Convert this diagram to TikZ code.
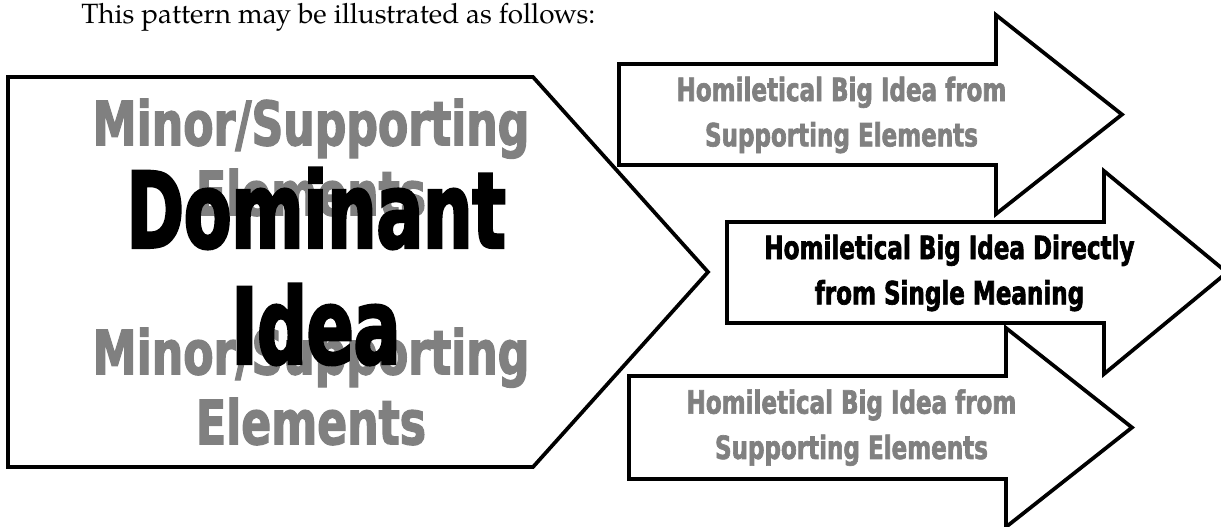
\documentclass[tikz,border=0pt]{standalone}
\usepackage{fontspec}
\setmainfont{TeX Gyre Pagella}
\newfontfamily\heavyfont[FakeStretch=0.8,FakeBold=2]{DejaVu Sans Condensed}
\newfontfamily\domfont[FakeStretch=0.73,FakeBold=2.5]{DejaVu Sans Condensed}
\definecolor{minorgray}{RGB}{128,128,128}
\tikzset{
	outline/.style={draw=black,fill=white,line width=2.8pt,line join=miter},
	minortext/.style={font=\heavyfont\bfseries\fontsize{46}{52.5}\selectfont,text=minorgray,align=center,inner sep=0pt},
	domtext/.style={font=\domfont\bfseries\fontsize{79}{87}\selectfont,text=black,align=center,inner sep=0pt},
	arrowtext/.style={font=\heavyfont\bfseries\fontsize{24}{34}\selectfont,align=center,inner sep=0pt},
}
\begin{document}
\begin{tikzpicture}[x=0.75pt,y=-0.75pt]
	\useasboundingbox (0,0) rectangle (1221,527);
	\clip (0,0) rectangle (1221,527);
	\node[anchor=base west,inner sep=0pt,font=\fontsize{20.9}{25}\selectfont] (intro) at (81,23.3) {This pattern may be illustrated as follows:};
	% the big pentagon
	\draw[outline] (8,77) -- (533,77) -- (708,272) -- (533,467) -- (8,467) -- cycle;
	\node[minortext] (minorA) at (311,157.5) {Minor/Supporting\\Elements};
	\node[minortext] (minorB) at (311,386.5) {Minor/Supporting\\Elements};
	\node[domtext] (dominant) at (316,266.5) {Dominant\\Idea};
	% the three arrows
	\draw[outline] (619,64) -- ++(377,0) -- ++(0,-49) -- ++(126,99.5) -- ++(-126,99.5) -- ++(0,-49) -- ++(-377,0) -- cycle;
	\node[arrowtext,text=minorgray] (homA) at (841.5,115) {Homiletical Big Idea from\\Supporting Elements};
	\draw[outline] (629,376) -- ++(377,0) -- ++(0,-48) -- ++(126,99.5) -- ++(-126,99.5) -- ++(0,-48) -- ++(-377,0) -- cycle;
	\node[arrowtext,text=minorgray] (homC) at (851.5,427.6) {Homiletical Big Idea from\\Supporting Elements};
	\draw[outline] (727,222) -- ++(377,0) -- ++(0,-51) -- ++(123,101.5) -- ++(-123,101.5) -- ++(0,-51) -- ++(-377,0) -- cycle;
	\node[arrowtext,text=black] (homB) at (949.5,273) {Homiletical Big Idea Directly\\from Single Meaning};
\end{tikzpicture}
\end{document}
